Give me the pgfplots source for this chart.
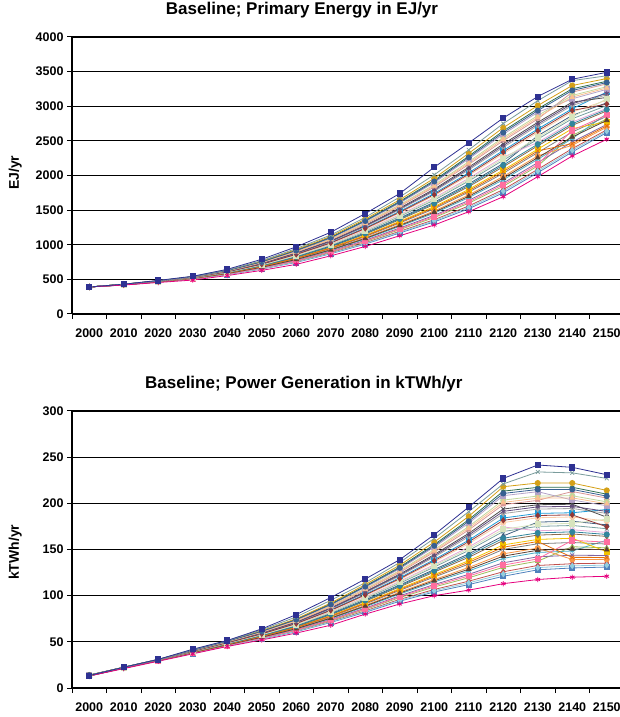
\documentclass[border=0pt]{standalone}
\usepackage{fontspec}
\setmainfont{Liberation Sans}
\usepackage{pgfplots}
\usepackage{pgfplotstable}
\pgfplotsset{compat=1.18}

% Excel-like series colours
\definecolor{xnavy}{HTML}{2E3192}
\definecolor{xmagenta}{HTML}{E5007D}
\definecolor{xgreyteal}{HTML}{7A9C9C}
\definecolor{c01}{HTML}{4F81BD}
\definecolor{c02}{HTML}{C0504D}
\definecolor{c03}{HTML}{9BBB59}
\definecolor{c04}{HTML}{8064A2}
\definecolor{c05}{HTML}{4BACC6}
\definecolor{c06}{HTML}{F79646}
\definecolor{c07}{HTML}{7F7F7F}
\definecolor{c08}{HTML}{F2C200}
\definecolor{c09}{HTML}{8C6A4E}
\definecolor{c10}{HTML}{3F5F7F}
\definecolor{c11}{HTML}{77A0A0}
\definecolor{c12}{HTML}{E6A8D7}
\definecolor{c13}{HTML}{FBCDA8}
\definecolor{c14}{HTML}{1F9BD7}
\definecolor{c15}{HTML}{A5A5A5}
\definecolor{c16}{HTML}{4D4D4D}
\definecolor{c17}{HTML}{D99694}
\definecolor{c18}{HTML}{C3D69B}
\definecolor{c19}{HTML}{B3A2C7}
\definecolor{c20}{HTML}{2F6F4F}
\definecolor{c21}{HTML}{D4A017}
\definecolor{c22}{HTML}{93CDDD}
\definecolor{c23}{HTML}{FF6F9F}
\definecolor{c24}{HTML}{5C4033}
\definecolor{c25}{HTML}{E46C0A}
\definecolor{c26}{HTML}{31859C}
\definecolor{c27}{HTML}{D7E4BD}
\definecolor{c28}{HTML}{953735}
\definecolor{c29}{HTML}{604A7B}
\definecolor{c30}{HTML}{FAC090}
\definecolor{c31}{HTML}{376092}

\pgfplotscreateplotcyclelist{excel}{
  {color=c01, mark=square*},
  {color=c02, mark=diamond*},
  {color=c03, mark=triangle*},
  {color=c04, mark=x},
  {color=c05, mark=asterisk},
  {color=c06, mark=*},
  {color=c07, mark=+},
  {color=c08, mark=square*},
  {color=c09, mark=diamond*},
  {color=c10, mark=triangle*},
  {color=c11, mark=x},
  {color=c12, mark=asterisk},
  {color=c13, mark=*},
  {color=c14, mark=square*},
  {color=c15, mark=diamond*},
  {color=c16, mark=x},
  {color=c17, mark=triangle*},
  {color=c18, mark=*},
  {color=c19, mark=square*},
  {color=c20, mark=asterisk},
  {color=c21, mark=*},
  {color=c22, mark=diamond*},
  {color=c23, mark=square*},
  {color=c24, mark=triangle*},
  {color=c25, mark=x},
  {color=c26, mark=*},
  {color=c27, mark=square*},
  {color=c28, mark=diamond*},
  {color=c29, mark=asterisk},
  {color=c30, mark=triangle*},
  {color=c31, mark=*}
}

% Primary energy, EJ/yr
\pgfplotstableread{
yr s0 s1 s2 s3 s4 s5 s6 s7 s8 s9 s10 s11 s12 s13 s14 s15 s16 s17 s18 s19 s20 near bot top e0 e1 e2 e3 e4 e5 e6 e7 e8 e9
2000 390 390 390 390 390 390 390 390 390 390 390 390 390 390 390 390 390 390 390 390 390 390 390 390 390 390 390 390 390 390 390 390 390 390
2010 420 421 421 422 422 423 423 424 424 425 425 426 426 427 427 428 428 429 429 430 430 430 418 430 420 421 422 423 424 425 426 427 428 429
2020 462 463 464 465 466 467 467 468 469 470 471 472 473 474 475 476 476 477 478 479 480 480 455 485 462 464 466 468 470 471 473 475 477 479
2030 505 507 509 510 512 514 516 517 519 521 523 524 526 528 530 531 533 535 537 538 540 540 490 545 506 509 513 516 520 523 527 530 534 537
2040 570 573 576 579 582 585 588 591 594 597 600 603 606 609 612 615 618 621 624 627 630 635 555 645 572 578 584 590 596 602 608 614 620 626
2050 650 656 661 667 672 678 683 689 694 700 705 711 716 722 727 733 738 744 749 755 760 770 630 790 653 664 675 686 697 708 719 730 741 752
2060 745 754 764 773 782 791 801 810 819 828 838 847 856 865 875 884 893 902 912 921 930 945 717 970 750 768 787 805 824 842 861 879 898 916
2070 870 883 895 908 920 933 945 958 970 983 995 1008 1020 1033 1045 1058 1070 1083 1095 1108 1120 1140 840 1180 876 901 926 951 976 1001 1026 1051 1076 1101
2080 1010 1028 1046 1064 1082 1100 1118 1136 1154 1172 1190 1208 1226 1244 1262 1280 1298 1316 1334 1352 1370 1395 975 1450 1019 1055 1091 1127 1163 1199 1235 1271 1307 1343
2090 1170 1194 1218 1242 1266 1290 1314 1338 1362 1386 1410 1434 1458 1482 1506 1530 1554 1578 1602 1626 1650 1690 1130 1740 1182 1230 1278 1326 1374 1422 1470 1518 1566 1614
2100 1330 1362 1393 1425 1456 1488 1519 1551 1582 1614 1645 1677 1708 1740 1771 1803 1834 1866 1897 1929 1960 2010 1285 2120 1346 1409 1472 1535 1598 1661 1724 1787 1850 1913
2110 1520 1560 1600 1640 1680 1720 1760 1800 1840 1880 1920 1960 2000 2040 2080 2120 2160 2200 2240 2280 2320 2370 1477 2470 1540 1620 1700 1780 1860 1940 2020 2100 2180 2260
2120 1750 1797 1844 1891 1938 1985 2032 2079 2126 2173 2220 2267 2314 2361 2408 2455 2502 2549 2596 2643 2690 2750 1694 2830 1774 1868 1962 2056 2150 2244 2338 2432 2526 2620
2130 2040 2089 2137 2186 2234 2283 2331 2380 2428 2574 2525 2477 2622 2671 2719 2768 2816 2865 2913 2962 3010 3080 1983 3140 2064 2161 2258 2355 2452 2549 2646 2743 2840 2937
2140 2340 2388 2580 2484 2532 2436 2628 2676 2724 2868 2820 2772 2916 2964 3012 3060 3204 3156 3108 3252 3300 3370 2282 3390 2364 2652 2556 2460 2748 2844 2940 3036 3132 3228
2150 2620 2659 2815 2737 2893 2698 2854 2776 2932 3049 3010 2971 3088 3205 3166 3127 3322 3283 3244 3361 3400 3440 2523 3490 2640 2874 2796 2718 2952 3108 3030 3186 3264 3342
}\energy

% Power generation, kTWh/yr
\pgfplotstableread{
yr s0 s1 s2 s3 s4 s5 s6 s7 s8 s9 s10 s11 s12 s13 s14 s15 s16 s17 s18 s19 s20 near bot top e0 e1 e2 e3 e4 e5 e6 e7 e8 e9
2000 13.0 13.1 13.1 13.2 13.2 13.3 13.3 13.4 13.4 13.5 13.5 13.6 13.6 13.7 13.7 13.8 13.8 13.9 13.9 14.0 14.0 13.5 13 13.5 13.0 13.1 13.2 13.3 13.4 13.5 13.6 13.7 13.8 13.9
2010 21.5 21.6 21.6 21.7 21.7 21.8 21.8 21.9 21.9 22.0 22.0 22.1 22.1 22.2 22.2 22.3 22.3 22.4 22.4 22.5 22.5 22.5 21 22.5 21.5 21.6 21.7 21.8 21.9 22.0 22.1 22.2 22.3 22.4
2020 29.5 29.6 29.7 29.7 29.8 29.9 30.0 30.0 30.1 30.2 30.3 30.3 30.4 30.5 30.6 30.6 30.7 30.8 30.9 30.9 31.0 31 29 31 29.5 29.7 29.8 30.0 30.1 30.3 30.4 30.6 30.7 30.9
2030 37.5 37.7 37.9 38.0 38.2 38.4 38.6 38.7 38.9 39.1 39.3 39.4 39.6 39.8 40.0 40.1 40.3 40.5 40.7 40.8 41.0 41.5 37 42 37.6 37.9 38.3 38.6 39.0 39.3 39.7 40.0 40.4 40.7
2040 45.5 45.8 46.1 46.3 46.6 46.9 47.2 47.4 47.7 48.0 48.3 48.5 48.8 49.1 49.4 49.6 49.9 50.2 50.5 50.7 51.0 51 45 51.5 45.6 46.2 46.7 47.3 47.8 48.4 48.9 49.5 50.0 50.6
2050 53.0 53.5 53.9 54.4 54.8 55.3 55.7 56.2 56.6 57.1 57.5 58.0 58.4 58.9 59.3 59.8 60.2 60.7 61.1 61.6 62.0 63 52 64 53.2 54.1 55.0 55.9 56.8 57.7 58.6 59.5 60.4 61.3
2060 61.0 61.7 62.4 63.1 63.8 64.5 65.2 65.9 66.6 67.3 68.0 68.7 69.4 70.1 70.8 71.5 72.2 72.9 73.6 74.3 75.0 77 59.5 79.5 61.4 62.8 64.2 65.6 67.0 68.4 69.8 71.2 72.6 74.0
2070 71.0 72.1 73.1 74.2 75.2 76.3 77.3 78.4 79.4 80.5 81.5 82.6 83.6 84.7 85.7 86.8 87.8 88.9 89.9 91.0 92.0 95 68 98 71.5 73.6 75.7 77.8 79.9 82.0 84.1 86.2 88.3 90.4
2080 82.0 83.5 85.0 86.5 88.0 89.5 91.0 92.5 94.0 95.5 97.0 98.5 100.0 101.5 103.0 104.5 106.0 107.5 109.0 110.5 112.0 114 80 118 82.8 85.8 88.8 91.8 94.8 97.8 100.8 103.8 106.8 109.8
2090 94.0 96.0 97.9 99.9 101.8 103.8 105.7 107.7 109.6 111.6 113.5 115.5 117.4 119.4 121.3 123.3 125.2 127.2 129.1 131.1 133.0 136 91 139 95.0 98.9 102.8 106.7 110.6 114.5 118.4 122.3 126.2 130.1
2100 104.0 106.7 109.4 112.1 114.8 117.5 120.2 122.9 125.6 128.3 131.0 133.7 136.4 139.1 141.8 144.5 147.2 149.9 152.6 155.3 158.0 162 100 166 105.4 110.8 116.2 121.6 127.0 132.4 137.8 143.2 148.6 154.0
2110 112.0 115.7 119.4 123.1 126.8 130.5 134.2 137.9 141.6 145.3 149.0 152.7 156.4 160.1 163.8 167.5 171.2 174.9 178.6 182.3 186.0 191 106 196 113.9 121.3 128.7 136.1 143.5 150.9 158.3 165.7 173.1 180.5
2120 121.0 125.9 130.7 135.6 140.4 145.3 150.1 155.0 159.8 164.7 169.5 174.4 179.2 184.1 188.9 193.8 198.6 203.5 208.3 213.2 218.0 221 113 227 123.4 133.1 142.8 152.5 162.2 171.9 181.6 191.3 201.0 210.7
2130 128.0 132.7 137.4 142.1 146.8 151.5 156.2 160.9 165.6 179.7 175.0 170.3 184.4 189.1 193.8 198.5 203.2 207.9 212.6 217.3 222.0 234 117.5 241.5 130.4 139.8 149.2 158.6 168.0 177.4 186.8 196.2 205.6 215.0
2140 130.0 134.6 153.0 143.8 148.4 139.2 157.6 162.2 166.8 180.6 176.0 171.4 185.2 189.8 194.4 199.0 212.8 208.2 203.6 217.4 222.0 233 120 239 132.3 159.9 150.7 141.5 169.1 178.3 187.5 196.7 205.9 215.1
2150 131.0 135.2 151.8 143.5 160.1 139.3 155.9 147.6 164.2 176.7 172.5 168.4 180.8 193.3 189.1 185.0 205.7 201.6 197.4 209.9 214.0 227 121 231 133.1 158.0 149.7 141.4 166.3 182.9 174.6 191.2 199.5 207.8
}\power

\pgfplotsset{
  ensemble/.style={
    scale only axis,
    width=552pt, height=277pt,
    xmin=1995, xmax=2155,
    xtick={2000,2010,...,2150},
    minor xtick={1995,2005,...,2155},
    axis x line*=bottom, axis y line*=left,
    axis line style={line width=1.6pt, black},
    tick align=outside,
    major tick length=5pt, minor tick length=5pt,
    major x tick style={draw=none},
    minor x tick style={line width=1pt, black},
    major y tick style={line width=1pt, black},
    ymajorgrids,
    major grid style={line width=1.2pt, black},
    /pgf/number format/1000 sep={},
    /pgf/number format/assume math mode=true,
    ticklabel style={font=\fontsize{12.5}{14}\selectfont\bfseries},
    xticklabel style={yshift=-6pt},
    title style={font=\fontsize{17}{20}\selectfont\bfseries, anchor=base},
    ylabel style={font=\fontsize{14}{16}\selectfont\bfseries, anchor=center},
    cycle list name=excel,
    mark size=2.6pt,
    every axis plot/.append style={line width=0.8pt, mark options={solid, line width=0.8pt}},
  }
}

\begin{document}
\begin{tikzpicture}
  \begin{axis}[
    ensemble,
    at={(72pt,403pt)}, anchor=south west,
    ymin=0, ymax=4000,
    ytick={0,500,...,4000},
    title={Baseline; Primary Energy in EJ/yr},
    title style={at={(axis description cs:0.4167,1.061)}},
    ylabel={EJ/yr},
    ylabel style={at={(axis description cs:-0.103,0.51)}},
  ]
    \pgfplotsinvokeforeach{0,...,20}{
      \addplot table[x=yr, y=s#1]{\energy};
    }
    \pgfplotsinvokeforeach{0,...,9}{
      \addplot table[x=yr, y=e#1]{\energy};
    }
    \addplot[color=xgreyteal, mark=x] table[x=yr, y=near]{\energy};
    \addplot[color=xmagenta, mark=asterisk] table[x=yr, y=bot]{\energy};
    \addplot[color=xnavy, mark=square*] table[x=yr, y=top]{\energy};
  \end{axis}

  \begin{axis}[
    ensemble,
    at={(72pt,29pt)}, anchor=south west,
    ymin=0, ymax=300,
    ytick={0,50,...,300},
    title={Baseline; Power Generation in kTWh/yr},
    title style={at={(axis description cs:0.42,1.061)}},
    ylabel={kTWh/yr},
    ylabel style={at={(axis description cs:-0.103,0.49)}},
  ]
    \pgfplotsinvokeforeach{0,...,20}{
      \addplot table[x=yr, y=s#1]{\power};
    }
    \pgfplotsinvokeforeach{0,...,9}{
      \addplot table[x=yr, y=e#1]{\power};
    }
    \addplot[color=xgreyteal, mark=x] table[x=yr, y=near]{\power};
    \addplot[color=xmagenta, mark=asterisk] table[x=yr, y=bot]{\power};
    \addplot[color=xnavy, mark=square*] table[x=yr, y=top]{\power};
  \end{axis}

  \pgfresetboundingbox
  \useasboundingbox (0,0) rectangle (619pt,717pt);
\end{tikzpicture}
\end{document}
